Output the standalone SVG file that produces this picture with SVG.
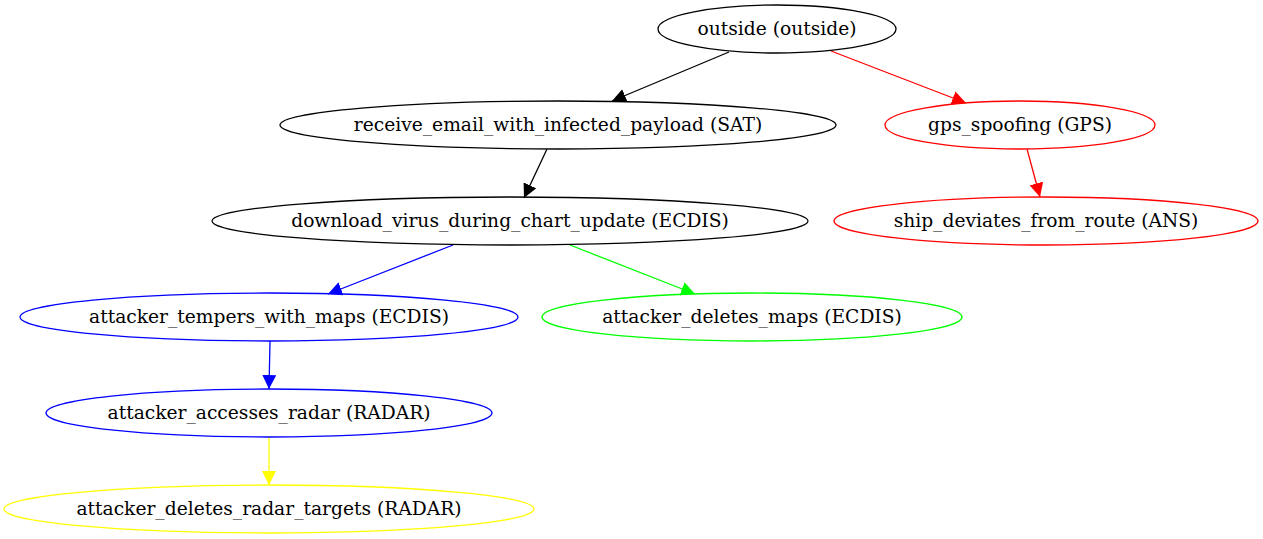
<svg xmlns="http://www.w3.org/2000/svg" width="1263" height="539" viewBox="0 0 1263 539">
<style>
.n ellipse{fill:none;stroke-width:1.3}
.n text{font-family:"DejaVu Serif",serif;font-size:18.67px;text-anchor:middle;fill:#000}
.e path{fill:none;stroke-width:1.3}
</style>
<defs>
<marker id="ak" viewBox="0 0 10 10" refX="10" refY="5" markerWidth="14" markerHeight="14" markerUnits="userSpaceOnUse" orient="auto"><path d="M0,0L10,5L0,10z" fill="#000"/></marker>
<marker id="ar" viewBox="0 0 10 10" refX="10" refY="5" markerWidth="14" markerHeight="14" markerUnits="userSpaceOnUse" orient="auto"><path d="M0,0L10,5L0,10z" fill="#f00"/></marker>
<marker id="ab" viewBox="0 0 10 10" refX="10" refY="5" markerWidth="14" markerHeight="14" markerUnits="userSpaceOnUse" orient="auto"><path d="M0,0L10,5L0,10z" fill="#00f"/></marker>
<marker id="ag" viewBox="0 0 10 10" refX="10" refY="5" markerWidth="14" markerHeight="14" markerUnits="userSpaceOnUse" orient="auto"><path d="M0,0L10,5L0,10z" fill="#0f0"/></marker>
<marker id="ay" viewBox="0 0 10 10" refX="10" refY="5" markerWidth="14" markerHeight="14" markerUnits="userSpaceOnUse" orient="auto"><path d="M0,0L10,5L0,10z" fill="#ff0"/></marker>
</defs>
<rect width="1263" height="539" fill="#fff"/>
<g id="edges" class="e">
<path d="M729,52L612,101" stroke="#000" marker-end="url(#ak)"/>
<path d="M831,51L966,103" stroke="#f00" marker-end="url(#ar)"/>
<path d="M547,149L524,198" stroke="#000" marker-end="url(#ak)"/>
<path d="M1027,149L1040,197" stroke="#f00" marker-end="url(#ar)"/>
<path d="M453,245L328,294" stroke="#00f" marker-end="url(#ab)"/>
<path d="M570,245L695,294" stroke="#0f0" marker-end="url(#ag)"/>
<path d="M270,341L269,389" stroke="#00f" marker-end="url(#ab)"/>
<path d="M269,437L269,485" stroke="#ff0" marker-end="url(#ay)"/>
</g>
<g id="outside" class="n"><ellipse cx="777" cy="29" rx="119" ry="24" stroke="#000"/><text x="777" y="35">outside (outside)</text></g>
<g id="receive_email_with_infected_payload" class="n"><ellipse cx="558" cy="125" rx="278" ry="24" stroke="#000"/><text x="558" y="131">receive_email_with_infected_payload (SAT)</text></g>
<g id="gps_spoofing" class="n"><ellipse cx="1020" cy="125" rx="135" ry="24" stroke="#f00"/><text x="1020" y="131">gps_spoofing (GPS)</text></g>
<g id="download_virus_during_chart_update" class="n"><ellipse cx="510" cy="221" rx="298" ry="24" stroke="#000"/><text x="510" y="227">download_virus_during_chart_update (ECDIS)</text></g>
<g id="ship_deviates_from_route" class="n"><ellipse cx="1046" cy="221" rx="212" ry="24" stroke="#f00"/><text x="1046" y="227">ship_deviates_from_route (ANS)</text></g>
<g id="attacker_tempers_with_maps" class="n"><ellipse cx="269" cy="317" rx="249" ry="24" stroke="#00f"/><text x="269" y="323">attacker_tempers_with_maps (ECDIS)</text></g>
<g id="attacker_deletes_maps" class="n"><ellipse cx="752" cy="317" rx="210" ry="24" stroke="#0f0"/><text x="752" y="323">attacker_deletes_maps (ECDIS)</text></g>
<g id="attacker_accesses_radar" class="n"><ellipse cx="269" cy="413" rx="223" ry="24" stroke="#00f"/><text x="269" y="419">attacker_accesses_radar (RADAR)</text></g>
<g id="attacker_deletes_radar_targets" class="n"><ellipse cx="269" cy="509" rx="265" ry="24" stroke="#ff0"/><text x="269" y="515">attacker_deletes_radar_targets (RADAR)</text></g>
</svg>
